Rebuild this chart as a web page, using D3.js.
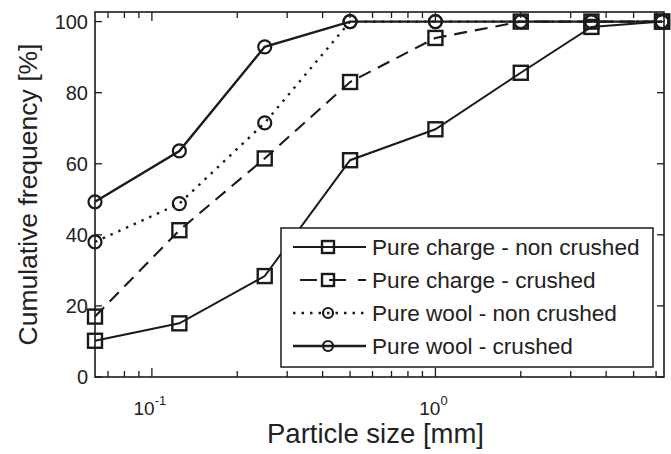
<!DOCTYPE html>
<html>
<head>
<meta charset="utf-8">
<script src="https://cdn.jsdelivr.net/npm/d3@7"></script>
<style>
  body { margin: 0; background: #fff; }
  svg { display: block; font-family: "Liberation Sans", Arial, sans-serif; }
  .lbl { fill: #222; }
</style>
</head>
<body>
<div id="chart"></div>
<script>
// Sieve sizes (mm) and cumulative frequency (%) per sample
const sizes = [0.063, 0.125, 0.25, 0.5, 1, 2, 3.55, 6.3];
const chargeNonCrushed = [10.2, 15.1, 28.4, 61, 69.7, 85.6, 98.5, 100];
const chargeCrushed = [17, 41.3, 61.5, 83, 95.4, 100, 100, 100];
const woolNonCrushed = [38, 48.8, 71.5, 100, 100, 100, 100, 100];
const woolCrushed = [49.3, 63.6, 92.9, 100, 100, 100, 100, 100];

const seriesNames = [
    'Pure charge - non crushed',
    'Pure charge - crushed',
    'Pure wool - non crushed',
    'Pure wool - crushed'
];
const yTicks = [0, 20, 40, 60, 80, 100];
const xDecades = [0.1, 1];
const xDecadeExp = ['-1', '0'];

const width = 671, height = 454;
const plot = { left: 95, right: 664, top: 12, bottom: 377 };

// Line styling per series
const styles = [
    { values: chargeNonCrushed, dash: null, marker: 'square', w: 2 },
    { values: chargeCrushed, dash: '13,8', marker: 'square', w: 2.1 },
    { values: woolNonCrushed, dash: '2.5,6', marker: 'circle', w: 2.4 },
    { values: woolCrushed, dash: null, marker: 'circle', w: 2.4 }
];

const svg = d3.select('#chart')
    .append('svg')
    .attr('width', width)
    .attr('height', height);

const x = d3.scaleLog()
    .domain([0.063, 6.4])
    .range([plot.left, plot.right]);

const y = d3.scaleLinear()
    .domain([0, 102.7])
    .range([plot.bottom, plot.top]);

const ink = '#1b1b1b';

// Minor/major ticks on all four sides, pointing inward
const minorTicks = [];
for (let e = -2; e <= 0; e++) {
    for (let m = 1; m <= 9; m++) {
        const v = m * Math.pow(10, e);
        if (v >= x.domain()[0] && v <= x.domain()[1]) minorTicks.push(v);
    }
}

const axesG = svg.append('g');

axesG.append('rect')
    .attr('x', plot.left)
    .attr('y', plot.top)
    .attr('width', plot.right - plot.left)
    .attr('height', plot.bottom - plot.top)
    .attr('fill', 'none')
    .attr('stroke', ink)
    .attr('stroke-width', 1.6);

minorTicks.forEach(v => {
    const len = xDecades.includes(v) ? 9 : 6;
    axesG.append('line')
        .attr('x1', x(v)).attr('x2', x(v))
        .attr('y1', plot.bottom).attr('y2', plot.bottom - len)
        .attr('stroke', ink).attr('stroke-width', 1.3);
    axesG.append('line')
        .attr('x1', x(v)).attr('x2', x(v))
        .attr('y1', plot.top).attr('y2', plot.top + len)
        .attr('stroke', ink).attr('stroke-width', 1.3);
});

yTicks.forEach(v => {
    axesG.append('line')
        .attr('x1', plot.left).attr('x2', plot.left + 7)
        .attr('y1', y(v)).attr('y2', y(v))
        .attr('stroke', ink).attr('stroke-width', 1.3);
    axesG.append('line')
        .attr('x1', plot.right).attr('x2', plot.right - 7)
        .attr('y1', y(v)).attr('y2', y(v))
        .attr('stroke', ink).attr('stroke-width', 1.3);
    axesG.append('text')
        .attr('class', 'lbl')
        .attr('x', plot.left - 7)
        .attr('y', y(v) + 7)
        .attr('text-anchor', 'end')
        .style('font-size', '20px')
        .text(v);
});

// Decade labels 10^-1, 10^0
xDecades.forEach((v, i) => {
    const t = axesG.append('text')
        .attr('class', 'lbl')
        .attr('x', x(v) - 2)
        .attr('y', 415)
        .attr('text-anchor', 'middle')
        .style('font-size', '19px');
    t.append('tspan').text('10');
    t.append('tspan')
        .attr('dy', -10)
        .style('font-size', '13px')
        .text(xDecadeExp[i]);
});

// Axis titles
svg.append('text')
    .attr('class', 'lbl')
    .attr('x', (plot.left + plot.right) / 2 - 4)
    .attr('y', 443)
    .attr('text-anchor', 'middle')
    .style('font-size', '27.5px')
    .text('Particle size [mm]');

svg.append('text')
    .attr('class', 'lbl')
    .attr('transform', `translate(37, ${(plot.top + plot.bottom) / 2}) rotate(-90)`)
    .attr('text-anchor', 'middle')
    .style('font-size', '26.5px')
    .text('Cumulative frequency [%]');

// Marker drawing helper
function drawMarker(g, cx, cy, type, size) {
    if (type === 'square') {
        g.append('rect')
            .attr('x', cx - size / 2).attr('y', cy - size / 2)
            .attr('width', size).attr('height', size)
            .attr('fill', 'none').attr('stroke', ink).attr('stroke-width', 2.4);
    } else {
        g.append('circle')
            .attr('cx', cx).attr('cy', cy).attr('r', size / 2)
            .attr('fill', 'none').attr('stroke', ink).attr('stroke-width', 2.2);
    }
}

const line = d3.line()
    .x((d, i) => x(sizes[i]))
    .y(d => y(d));

const dataG = svg.append('g');

styles.forEach(s => {
    dataG.append('path')
        .datum(s.values)
        .attr('d', line)
        .attr('fill', 'none')
        .attr('stroke', ink)
        .attr('stroke-width', s.w)
        .attr('stroke-dasharray', s.dash);
});

styles.forEach(s => {
    s.values.forEach((v, i) => {
        drawMarker(dataG, x(sizes[i]), y(v), s.marker, s.marker === 'square' ? 14 : 13);
    });
});

// Legend
const legend = svg.append('g');
legend.append('rect')
    .attr('x', 281).attr('y', 228)
    .attr('width', 372).attr('height', 139)
    .attr('fill', '#fff')
    .attr('stroke', ink)
    .attr('stroke-width', 1.5);

styles.forEach((s, i) => {
    const ly = 247 + i * 33;
    legend.append('line')
        .attr('x1', s.dash === '13,8' ? 300 : 293).attr('x2', 366)
        .attr('y1', ly).attr('y2', ly)
        .attr('stroke', ink)
        .attr('stroke-width', s.w)
        .attr('stroke-dasharray', s.dash === '13,8' ? '17,12' : s.dash);
    drawMarker(legend, 328, ly, s.marker, s.marker === 'square' ? 12 : 10);
    legend.append('text')
        .attr('class', 'lbl')
        .attr('x', 372)
        .attr('y', ly + 8)
        .style('font-size', '22.6px')
        .text(seriesNames[i]);
});
</script>
</body>
</html>
